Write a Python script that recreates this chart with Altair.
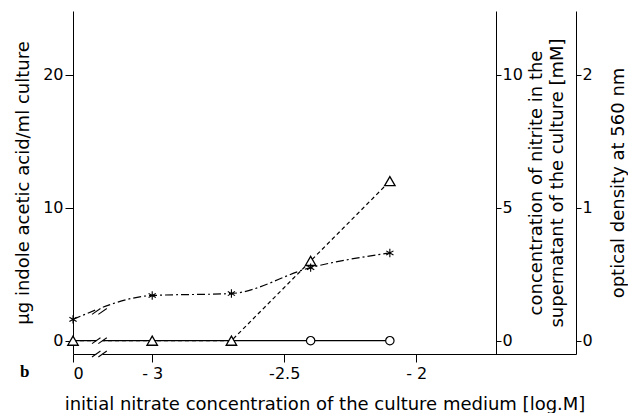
import altair as alt
import pandas as pd

# ---- data ----
x_values = [0, -3, -2.7, -2.4, -2.1]          # initial nitrate [log M], 0 = no nitrate
iaa_values = [1.6, 3.4, 3.55, 5.5, 6.6]       # µg IAA / ml culture (asterisks)
nitrite_values = [0, 0, 0, 3.0, 6.0]          # nitrite [mM] (triangles)
od_values = [0, 0, 0, 0, 0]                   # optical density 560 nm (circles)

x_tick_values = [0, -3, -2.5, -2]
x_tick_labels = ["0", "- 3", "-2.5", "- 2"]
iaa_ticks = [0, 10, 20]
nitrite_ticks = [0, 5, 10]
od_ticks = [0, 1, 2]
panel_label = ["b"]

# broken axis: the value 0 is drawn left of -3
ZERO_POS = -3.3
BREAK_POS = -3.2
X_MAX = -1.395

IAA_DOM = [-1, 24.8]
NIT_DOM = [-0.5, 12.4]
OD_DOM = [-0.1, 2.48]

FONT = "DejaVu Sans"


def to_pos(v):
    return ZERO_POS if v == 0 else v


df = pd.DataFrame({
    "x": x_values,
    "pos": [to_pos(v) for v in x_values],
    "iaa": iaa_values,
    "nitrite": nitrite_values,
    "od": od_values,
})

tick_pos = [to_pos(v) for v in x_tick_values]
label_expr = "".join(
    f"abs(datum.value - ({p})) < 0.001 ? '{lab}' : " for p, lab in zip(tick_pos, x_tick_labels)
) + "''"

x_axis = alt.Axis(
    values=tick_pos, labelExpr=label_expr, title="initial nitrate concentration of the culture medium [log.M]",
    tickSize=8, labelPadding=3, titlePadding=14, domainColor="black", tickColor="black",
    labelColor="black", titleColor="black", labelFont=FONT, titleFont=FONT,
    labelFontSize=16, titleFontSize=18, titleFontWeight="normal", grid=False,
)
x_scale = alt.Scale(domain=[ZERO_POS, X_MAX], nice=False, zero=False)


def xenc(field):
    return alt.X(f"{field}:Q", scale=x_scale, axis=x_axis)


def yaxis(orient, values, title, offset=0, angle=270, pad=10, baseline=None, tick=8, lpad=2, tx=None):
    kw = dict(
        orient=orient, values=values, title=title, offset=offset, titleAngle=angle,
        tickSize=tick, labelPadding=lpad, titlePadding=pad, domainColor="black", tickColor="black",
        labelColor="black", titleColor="black", labelFont=FONT, titleFont=FONT,
        labelFontSize=16, titleFontSize=18, titleFontWeight="normal", grid=False,
        titleLineHeight=21,
    )
    if baseline:
        kw["titleBaseline"] = baseline
    if tx is not None:
        kw["titleX"] = tx
    return alt.Axis(**kw)


base = alt.Chart(df)

iaa_line = base.mark_line(color="black", strokeWidth=1.2, strokeDash=[8, 3, 2, 3], interpolate="monotone").encode(
    x=xenc("pos"),
    y=alt.Y("iaa:Q", scale=alt.Scale(domain=IAA_DOM, nice=False, zero=False),
            axis=yaxis("left", iaa_ticks, "µg indole acetic acid/ml culture", pad=10)),
)
nit_line = base.mark_line(color="black", strokeWidth=1.2, strokeDash=[4, 3]).encode(
    x=xenc("pos"),
    y=alt.Y("nitrite:Q", scale=alt.Scale(domain=NIT_DOM, nice=False, zero=False),
            axis=yaxis("right", nitrite_ticks,
                       ["concentration of nitrite in the", "supernatant of the culture [mM]"],
                       offset=-80, baseline="top", tick=5, lpad=1, tx=31)),
)
od_line = base.mark_line(color="black", strokeWidth=1.2).encode(
    x=xenc("pos"),
    y=alt.Y("od:Q", scale=alt.Scale(domain=OD_DOM, nice=False, zero=False),
            axis=yaxis("right", od_ticks, "optical density at 560 nm", baseline="top", tick=5, lpad=1, tx=33)),
)

# break decorations (all in IAA units)
iaa_at_break = iaa_values[0] + (iaa_values[1] - iaa_values[0]) * (BREAK_POS - ZERO_POS) / (-3 - ZERO_POS)
levels = [IAA_DOM[0], 0, iaa_at_break]
gap = 0.012
gaps = pd.DataFrame({
    "x1": [BREAK_POS - gap] * 3, "x2": [BREAK_POS + gap] * 3,
    "y1": [l - 0.4 for l in levels], "y2": [l + 0.4 for l in levels],
})
slash_rows = []
for l in levels:
    for c in (BREAK_POS - gap, BREAK_POS + gap):
        slash_rows.append({"x1": c - 0.016, "x2": c + 0.016, "y1": l - 0.22, "y2": l + 0.22})
slashes = pd.DataFrame(slash_rows)

yd = alt.Scale(domain=IAA_DOM, nice=False, zero=False)
gap_layer = alt.Chart(gaps).mark_rect(color="white").encode(
    x=xenc("x1"), x2="x2:Q", y=alt.Y("y1:Q", scale=yd, axis=None), y2="y2:Q")
slash_layer = alt.Chart(slashes).mark_rule(color="black", strokeWidth=1.1).encode(
    x=xenc("x1"), x2="x2:Q", y=alt.Y("y1:Q", scale=yd, axis=None), y2="y2:Q")

od_pts = base.transform_filter("datum.nitrite > 0").mark_point(
    shape="circle", filled=True, fill="white", stroke="black", strokeWidth=1.2, size=70, opacity=1).encode(
    x=xenc("pos"), y=alt.Y("od:Q", scale=alt.Scale(domain=OD_DOM, nice=False, zero=False), axis=None))
nit_pts = base.mark_point(
    shape="triangle-up", filled=True, fill="white", stroke="black", strokeWidth=1.3, size=110, opacity=1).encode(
    x=xenc("pos"), y=alt.Y("nitrite:Q", scale=alt.Scale(domain=NIT_DOM, nice=False, zero=False), axis=None))
asterisk = "M0,-1L0,1M-0.866,-0.5L0.866,0.5M-0.866,0.5L0.866,-0.5"
iaa_pts = base.mark_point(
    shape=asterisk, filled=False, stroke="black", strokeWidth=1.1, size=70, opacity=1).encode(
    x=xenc("pos"), y=alt.Y("iaa:Q", scale=yd, axis=None))

label_layer = alt.Chart(pd.DataFrame({"t": panel_label})).mark_text(
    font="Liberation Serif", fontWeight="bold", fontSize=17, color="black", baseline="middle", align="left").encode(
    x=alt.value(-53), y=alt.value(361), text="t:N")

chart = alt.layer(
    od_line, nit_line, iaa_line, gap_layer, slash_layer, od_pts, nit_pts, iaa_pts, label_layer
).resolve_scale(y="independent").properties(
    width=503, height=343,
    autosize=alt.AutoSizeParams(type="none"),
    padding={"left": 65, "top": 3, "right": 52, "bottom": 62},
    background="white",
).configure_view(stroke=None)

chart.save("out.html", embed_options={"renderer": "svg", "actions": False})
